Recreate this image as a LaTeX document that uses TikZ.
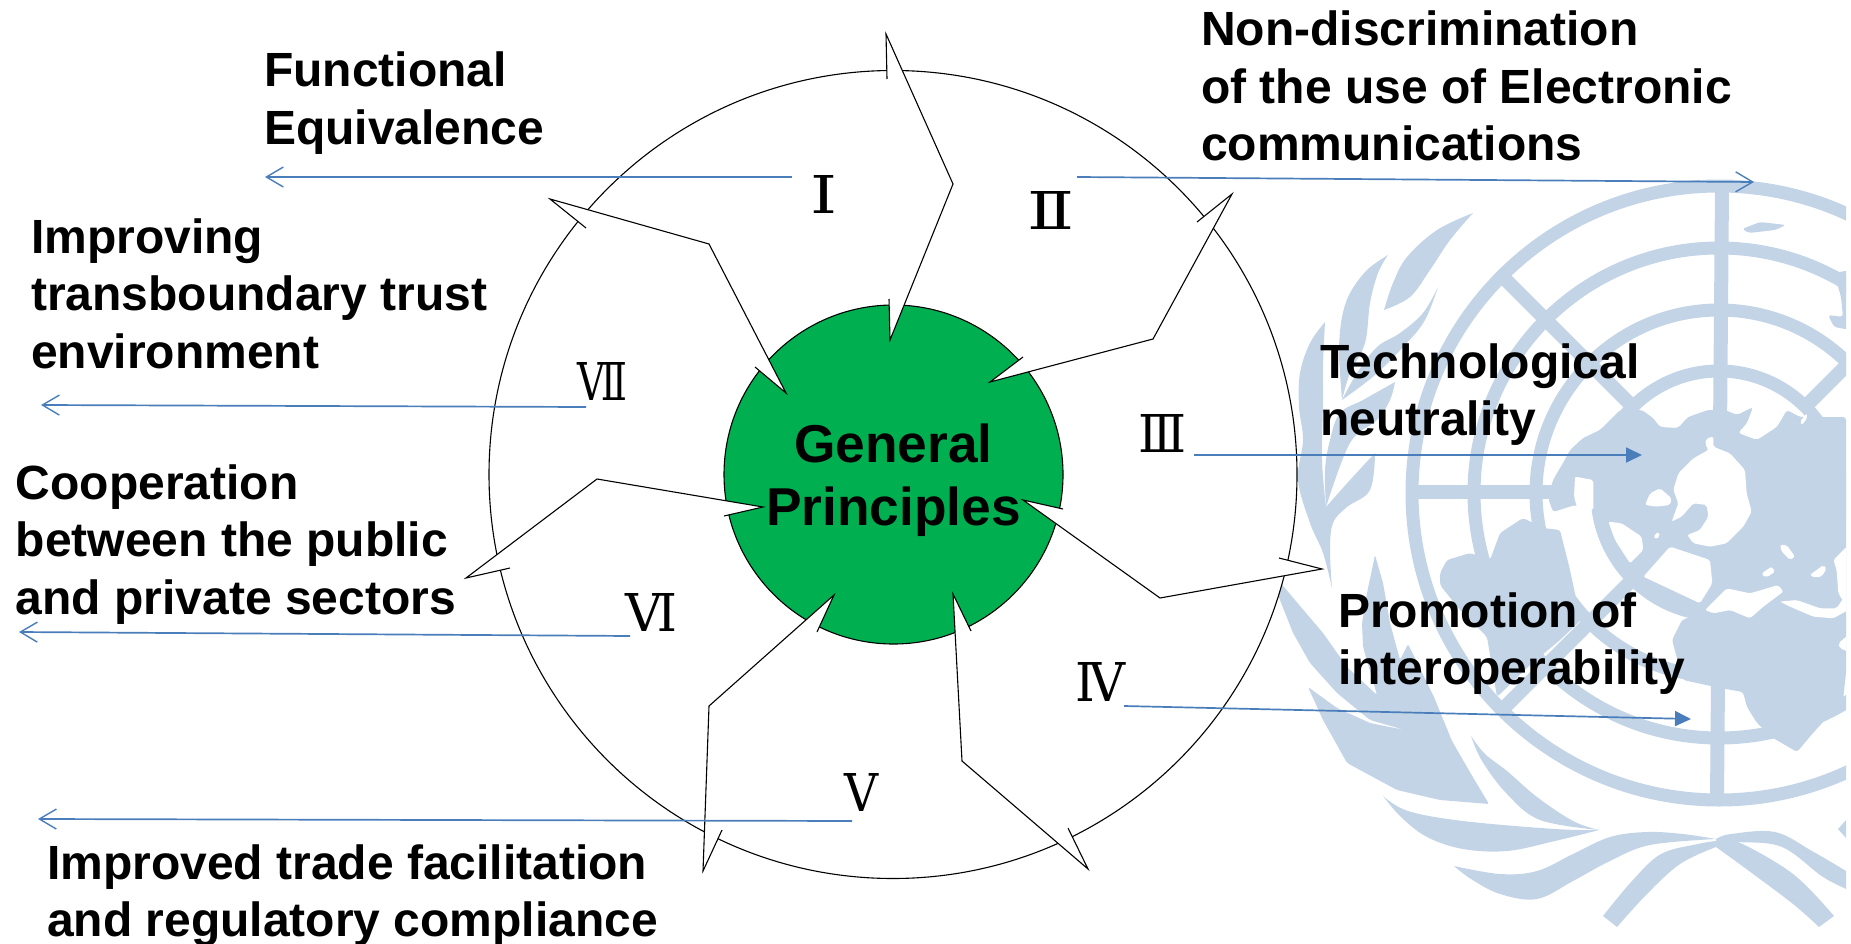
\documentclass[tikz,border=0pt]{standalone}
\usepackage{fontspec}
\usepackage{graphicx}
\setmainfont{Liberation Sans}
\newfontfamily\romfont{DejaVu Serif Condensed}
\usetikzlibrary{arrows.meta}
\definecolor{em}{HTML}{C3D4E7}
\definecolor{bl}{HTML}{4A7EBB}
\definecolor{gr}{HTML}{00B050}
\newcommand{\tl}[1]{\begin{tabular}[t]{@{}l@{}}#1\end{tabular}}
\newcommand{\rn}[3]{\resizebox{#1pt}{#2pt}{\romfont #3}}
\newcommand{\lf}[2]{\fill[em] plot[smooth,tension=.6] coordinates {#1} -- plot[smooth,tension=.6] coordinates {#2} -- cycle;}
\tikzset{
  lbl/.style={anchor=base west,inner sep=0pt,font=\fontsize{48}{57.5}\selectfont\bfseries},
  gen/.style={anchor=base,inner sep=0pt,font=\fontsize{53.3}{63}\selectfont\bfseries},
  num/.style={inner sep=0pt},
  vane/.style={fill=white,draw=black,line width=1.1pt,line join=miter},
  barb/.style={draw=bl,line width=1.7pt,-{Straight Barb[length=17pt,width=20pt,line width=1.4pt]}},
  solid arrow/.style={draw=bl,line width=1.7pt,-{Triangle[length=16pt,width=15pt]}},
  ring/.style={draw=em,line width=13pt},
  cut/.style={fill=white,rounded corners=2pt},
  land/.style={fill=em,rounded corners=3pt},
  z7/.style={shift={(1550,330)},x=0.3333pt,y=-0.3333pt},
  z9/.style={shift={(1640,560)},x=0.3333pt,y=-0.3333pt},
}
\begin{document}
\begin{tikzpicture}[x=1pt,y=-1pt]
\useasboundingbox (0,0) rectangle (1851,944);
% ---------- emblem ----------
\begin{scope}
\clip (1200,150) rectangle (1846,944);
\foreach \r in {307,245,183,122} \draw[ring] (1719,493) circle[radius=\r pt];
\draw[em,line width=14pt] (1722,187) -- (1717,800);
\draw[em,line width=14pt] (1412,492) -- (1600,492);
\draw[em,line width=14pt] (1502,276) -- (1634,408);
\draw[em,line width=14pt] (1502,710) -- (1634,578);
\draw[em,line width=14pt] (1936,276) -- (1804,408);
% land
\path[land] (1563,463) -- (1570,450) -- (1583,438) -- (1600,430) -- (1620,410) -- (1642,410) -- (1653,418) -- (1660,427) -- (1678,428) -- (1688,417) -- (1708,410) -- (1725,410) -- (1737,415) -- (1753,407) -- (1747,423) -- (1738,433) -- (1757,440) -- (1777,427) -- (1787,410) -- (1800,417) -- (1846,417) -- (1846,673) -- (1843,700) -- (1813,733) -- (1797,752) -- (1773,738) -- (1757,723) -- (1747,707) -- (1743,692) -- (1720,688) -- (1683,680) -- (1672,640) -- (1682,620) -- (1703,612) -- (1690,612) -- (1660,600) -- (1632,578) -- (1618,560) -- (1602,530) -- (1594,510) -- (1575,505) -- (1553,512) -- (1548,498) -- (1553,480) -- cycle;
\path[land] (1440,573) -- (1447,560) -- (1470,553) -- (1490,560) -- (1500,533) -- (1523,518) -- (1543,528) -- (1560,530) -- (1570,570) -- (1577,603) -- (1581,620) -- (1560,640) -- (1530,665) -- (1497,697) -- (1487,637) -- (1460,610) -- (1440,585) -- cycle;
% cutouts
\begin{scope}[z7]
\path[cut] (470,325) -- (490,320) -- (490,350) -- (540,370) -- (585,420) -- (590,490) -- (605,545) -- (580,590) -- (530,640) -- (480,650) -- (430,640) -- (412,615) -- (450,600) -- (475,560) -- (470,525) -- (430,520) -- (395,560) -- (365,575) -- (385,520) -- (370,480) -- (385,430) -- (430,385) -- (475,360) -- (465,340) -- cycle;
\path[cut] (285,525) -- (300,490) -- (330,475) -- (365,505) -- (360,525) -- (320,530) -- cycle;
\path[cut] (690,645) -- (710,645) -- (735,680) -- (720,690) -- (695,665) -- cycle;
\path[cut] (635,730) -- (665,710) -- (675,725) -- (645,740) -- cycle;
\path[cut] (780,735) -- (820,705) -- (830,715) -- (815,740) -- (790,742) -- cycle;
\path[cut] (310,620) -- (325,605) -- (330,620) -- (315,628) -- cycle;
\path[cut] (750,275) -- (770,250) -- (772,265) -- (755,285) -- cycle;
\path[cut] (175,575) -- (215,580) -- (275,620) -- (280,660) -- (240,700) -- (195,630) -- cycle;
\path[cut] (360,650) -- (480,690) -- (487,760) -- (450,820) -- (280,740) -- cycle;
\path[cut] (75,440) -- (130,450) -- (130,540) -- (95,545) -- (85,590) -- (75,580) -- (85,545) -- (72,500) -- cycle;
\path[cut] (850,690) -- (890,650) -- (890,830) -- (865,790) -- (860,720) -- cycle;
\end{scope}
\begin{scope}[z9]
\path[cut] (195,150) -- (260,85) -- (330,100) -- (415,75) -- (430,95) -- (370,140) -- (330,175) -- (270,150) -- (220,160) -- cycle;
\path[cut] (420,125) -- (470,120) -- (540,145) -- (590,145) -- (610,115) -- (625,150) -- (580,175) -- (520,170) -- (450,140) -- cycle;
\path[cut] (365,45) -- (395,25) -- (405,35) -- (380,52) -- cycle;
\path[cut] (510,45) -- (550,20) -- (555,35) -- (525,52) -- cycle;
\path[cut] (595,250) -- (625,225) -- (625,275) -- (600,265) -- cycle;
\end{scope}
\path[land] (1742,229) -- (1760,222) -- (1786,225) -- (1775,230) -- (1749,233) -- cycle;
\path[land] (1851,270) -- (1834,273) -- (1841,297) -- (1843,317) -- (1828,315) -- (1834,327) -- (1851,330) -- cycle;
% upper leaves
\lf{(1473,213) (1437,230) (1407,257) (1393,283) (1384,310)}{(1384,310) (1410,297) (1430,270) (1450,240) (1473,213)}
\lf{(1388,255) (1367,270) (1350,293) (1342,317) (1339,347) (1340,373) (1342,400)}{(1342,400) (1350,373) (1365,343) (1370,303) (1378,273) (1388,255)}
\lf{(1438,287) (1423,313) (1400,333) (1377,347) (1357,373) (1342,400)}{(1342,400) (1375,375) (1405,345) (1425,320) (1438,287)}
\lf{(1395,382) (1363,400) (1340,413) (1330,440) (1325,470) (1326,507)}{(1326,507) (1350,443) (1377,420) (1390,400) (1395,382)}
% long left leaf with its lower spur
\fill[em] plot[smooth,tension=.6] coordinates {(1325,322) (1310,343) (1300,373) (1299,407) (1303,440) (1298,480) (1310,523) (1323,553) (1332,588)} -- plot[smooth,tension=.6] coordinates {(1332,588) (1330,550) (1333,523) (1347,507) (1370,490) (1375,453)} -- plot[smooth,tension=.6] coordinates {(1375,453) (1350,480) (1326,507)} -- plot[smooth,tension=.6] coordinates {(1326,507) (1322,460) (1323,400) (1323,365) (1325,322)} -- cycle;
% lower wreath mass
\fill[em,rounded corners=2pt] (1375,555) -- (1383,583) -- (1390,623) -- (1400,660) -- (1408,644) -- (1434,697) -- (1452,741) -- (1471,774) -- (1489,804) -- (1440,800) -- (1397,790) -- (1347,763) -- (1323,720) -- (1308,687) -- (1337,708) -- (1370,723) -- (1405,730) -- (1370,720) -- (1337,693) -- (1310,663) -- (1293,633) -- (1278,595) -- (1278,580) -- (1323,633) -- (1347,667) -- (1377,695) -- (1363,647) -- (1362,623) -- (1367,593) -- cycle;
% lower leaves
\lf{(1471,736) (1482,761) (1507,794) (1540,820) (1599,830)}{(1599,830) (1573,821) (1537,797) (1507,771) (1485,754) (1471,736)}
\lf{(1383,796) (1401,817) (1427,837) (1463,849) (1507,851) (1555,841) (1599,830)}{(1599,830) (1555,829) (1463,821) (1408,811) (1383,796)}
% ribbons
\lf{(1454,866) (1471,879) (1500,894) (1537,899) (1573,881) (1610,861) (1650,845) (1716,839)}{(1716,839) (1683,834) (1647,832) (1610,837) (1573,854) (1537,871) (1500,874) (1454,866)}
\lf{(1716,841) (1698,844) (1661,854) (1632,881) (1603,916)}{(1617,927) (1647,894) (1680,864) (1716,847)}
\lf{(1716,847) (1749,871) (1793,904) (1819,927)}{(1834,916) (1793,874) (1738,842) (1716,841)}
\lf{(1716,839) (1731,834) (1775,832) (1812,851) (1851,874)}{(1851,891) (1823,877) (1782,847) (1738,842) (1716,841)}
\fill[em] (1838,829) -- (1846,820) -- (1846,838) -- cycle;
\end{scope}
% ---------- main circles ----------
\node[circle,draw=black,fill=white,line width=1.1pt,minimum size=808pt,inner sep=0pt] (outer) at (893,474.5) {};
\node[circle,draw=black,fill=gr,line width=1.1pt,minimum size=339pt,inner sep=0pt] (inner) at (893.5,474.5) {};
% ---------- seven vanes ----------
\path[vane] (887,79) -- (886,34) -- (953,184) -- (890,340) -- (889,299);
\path[vane] (1197,222) -- (1232,194) -- (1153,339) -- (990,382) -- (1023,357);
\path[vane] (1279,558) -- (1322,569) -- (1160,598) -- (1023,500) -- (1063,509);
\path[vane] (1068,828) -- (1088,869) -- (962,761) -- (953,594) -- (971,631);
\path[vane] (722,830) -- (703,871) -- (709,706) -- (834,595) -- (817,632);
\path[vane] (510,568) -- (466,578) -- (597,479) -- (763,507) -- (724,516);
\path[vane] (586,228) -- (550,199) -- (709,244) -- (786,393) -- (755,367);
% ---------- numerals ----------
\node[num] (n1) at (824,194) {\rn{27}{38}{Ⅰ}};
\node[num] (n2) at (1050.5,210.5) {\rn{47}{38}{Ⅱ}};
\node[num] (n3) at (1162,433.5) {\rn{48}{38}{Ⅲ}};
\node[num] (n4) at (1100,681.5) {\rn{50}{39}{Ⅳ}};
\node[num] (n5) at (861,792) {\rn{34}{38}{Ⅴ}};
\node[num] (n6) at (651,612) {\rn{52}{38}{Ⅵ}};
\node[num] (n7) at (602,381) {\rn{50}{38}{Ⅶ}};
% ---------- labels ----------
\node[lbl] (t1) at (264,87) {\tl{Functional\\Equivalence}};
\node[lbl] (t2) at (1201,46) {\tl{Non-discrimination\\of the use of Electronic\\communications}};
\node[lbl] (t3) at (1320,378) {\tl{Technological\\neutrality}};
\node[lbl] (t4) at (1338,627) {\tl{Promotion of\\interoperability}};
\node[lbl] (t5) at (47,879) {\tl{Improved trade facilitation\\and regulatory compliance}};
\node[lbl] (t6) at (15.5,499) {\tl{Cooperation\\between the public\\and private sectors}};
\node[lbl] (t7) at (31,253) {\tl{Improving\\transboundary trust\\environment}};
\node[gen] (g1) at (893.5,462) {General};
\node[gen] (g2) at (893.5,525) {Principles};
% ---------- blue connectors ----------
\coordinate (a1s) at (792,177); \coordinate (a1e) at (265,177);
\coordinate (a2s) at (1077,177); \coordinate (a2e) at (1754,182);
\coordinate (a3s) at (1194,455); \coordinate (a3e) at (1642,455);
\coordinate (a4s) at (1124,706); \coordinate (a4e) at (1691,719);
\coordinate (a5s) at (852,821); \coordinate (a5e) at (38,819);
\coordinate (a6s) at (630,636); \coordinate (a6e) at (19,632);
\coordinate (a7s) at (586,407); \coordinate (a7e) at (41,405);
\draw[barb] (a1s) -- (a1e);
\draw[barb] (a2s) -- (a2e);
\draw[solid arrow] (a3s) -- (a3e);
\draw[solid arrow] (a4s) -- (a4e);
\draw[barb] (a5s) -- (a5e);
\draw[barb] (a6s) -- (a6e);
\draw[barb] (a7s) -- (a7e);
\end{tikzpicture}
\end{document}
